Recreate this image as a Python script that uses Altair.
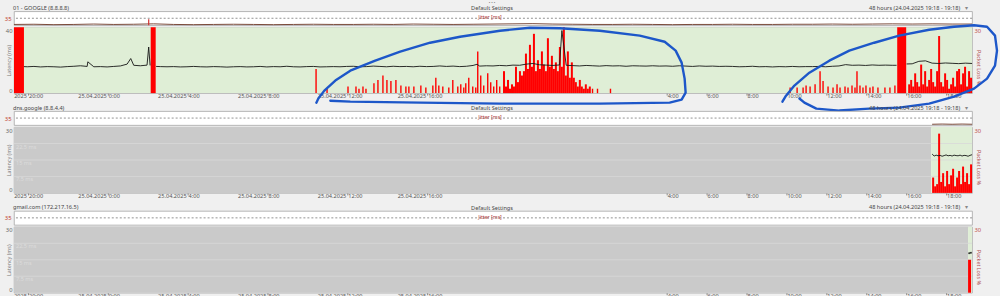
import altair as alt
import pandas as pd
import numpy as np

FONT = "Noto Sans"
W, HJ, HM = 960, 14, 66
GREEN, GRAY, RED = "#dfeed6", "#cacaca", "#ff0000"

START = pd.Timestamp("2025-04-24 19:18")

# ---------------- x-axis tick labels ----------------
tick_times = ["2025-04-24 20:00", "2025-04-25 00:00", "2025-04-25 04:00", "2025-04-25 08:00",
              "2025-04-25 12:00", "2025-04-25 16:00", "2025-04-26 04:00", "2025-04-26 06:00",
              "2025-04-26 08:00", "2025-04-26 10:00", "2025-04-26 12:00", "2025-04-26 14:00",
              "2025-04-26 16:00", "2025-04-26 18:00"]
tick_dates = ["2025", "25.04.2025", "25.04.2025", "25.04.2025", "25.04.2025", "25.04.2025",
              "", "", "", "", "", "", "", ""]
tick_clock = ["20:00", "0:00", "4:00", "8:00", "12:00", "16:00", "4:00", "6:00", "8:00",
              "10:00", "12:00", "14:00", "16:00", "18:00"]
tick_hours = list(((pd.to_datetime(tick_times) - START).total_seconds() / 3600).round(3))

# ---------------- panel meta ----------------
panel_names = ["01 - GOOGLE (8.8.8.8)", "dns.google (8.8.4.4)", "gmail.com (172.217.16.5)"]
lat_max = [40, 30, 30]
seg_start = [[0.0], [0.0, 45.95], [0.0, 47.8]]
seg_end = [[48.0], [45.95, 48.0], [47.8, 48.0]]
seg_state = [["ok"], ["none", "ok"], ["none", "ok"]]

grid_vals = [7.5, 15, 22.5]
grid_labels = ["7,5 ms", "15 ms", "22,5 ms"]

# ---------------- panel 1 latency (ms), every 20 min ----------------
lat1_values = [
    None, None, 16.0, 16.2, 15.9, 16.1, 16.0, 15.8, 16.1, 16.3, 16.6, 16.2,
    16.0, 16.1, 15.9, 16.2, 16.5, 17.6, 16.9, 16.6, 17.0, None, 16.1, 16.0,
    16.1, 15.9, 16.0, 16.2, 16.0, 15.9, 16.1, 16.0, 15.8, 16.0, 16.1, 15.9,
    16.0, 16.2, 15.9, 16.1, 16.0, 16.3, 16.0, 15.9, 16.1, 16.2, 15.9, 16.0,
    16.1, 16.0, 16.2, 16.3, 16.0, 16.1, 16.4, 16.2, 16.0, 16.3, 16.1, 16.2,
    16.0, 16.3, 16.1, 16.2, 16.5, 16.2, 16.4, 16.1, 16.3, 16.8, 16.4, 16.6,
    16.5, 16.8, 16.6, 17.0, 16.9, 17.6, 18.0, 17.2, 17.0, 16.8, 17.1, 16.9,
    16.7, 16.5, 16.8, 16.6, 16.4, 16.7, 16.5, 16.6, 16.3, 16.6, 16.5, 16.4,
    16.6, 16.4, 16.5, 16.3, 16.6, 16.4, 16.2, 16.5, 16.3, 16.4, 16.2, 16.3,
    16.2, 16.0, 16.1, 16.3, 16.0, 16.1, 15.9, 16.1, 16.0, 16.2, 16.0, 16.1,
    16.1, 16.2, 16.0, 16.3, 16.5, 17.3, 16.9, 17.0, 16.8, 17.1, 16.9, 17.0,
    16.9, None, None, 17.8, 19.3, 19.6, 18.2, 18.0, 18.3, 18.1, 17.9, 18.2,
]
lat1_hours = list(np.arange(len(lat1_values)) / 3)
lat1_extra_hours = [0.5, 3.7, 5.85, 6.75, 6.82, 7.12, 23.2, 27.45, 44.22, 44.72, 48.0]
lat1_extra_values = [16.1, 19.0, 21.0, 28.0, 16.8, 16.2, 17.5, 38.0, 16.9, 17.7, 18.0]

lat2_hours = [46.0, 46.1, 46.2, 46.3, 46.4, 46.5, 46.6, 46.7, 46.8, 46.9, 47.0, 47.1, 47.2,
              47.3, 47.4, 47.5, 47.6, 47.7, 47.8, 47.9, 48.0]
lat2_values = [17.7, 16.8, 17.2, 16.9, 17.1, 16.7, 17.0, 17.3, 16.9, 17.1, 16.8, 17.2, 17.0,
               16.9, 17.2, 16.8, 17.1, 17.0, 16.7, 17.1, 17.4]
lat3_hours = [47.85, 47.95]
lat3_values = [18.0, 18.2]

# ---------------- packet loss (%) ----------------
loss1_thin_h = [15.1, 15.65, 16.7, 17.1, 17.25, 17.45, 17.6, 18.0, 18.2, 18.45, 18.65, 18.85,
                19.1, 19.35, 19.6, 19.75, 20.0, 20.35, 20.6, 20.95, 21.1, 21.25, 21.45, 21.75,
                21.95, 22.2, 22.35, 22.5, 22.6, 22.75, 22.95, 23.1, 23.2, 23.35, 23.5, 23.7,
                23.85, 24.0, 24.15, 24.3, 28.95, 29.2, 29.85,
                38.85, 39.2, 39.5, 39.65, 39.85, 40.1, 40.35, 40.5, 40.75, 41.0, 41.2, 41.35,
                41.6, 41.75, 41.95, 42.1, 42.2, 42.35, 42.5, 42.65, 42.85, 43.0, 43.25, 43.6,
                43.85, 44.1]
loss1_thin_v = [11, 2, 3, 3, 2, 3, 2, 4.5, 6, 8, 6, 5.5,
                6, 3.5, 3, 3, 3, 3.5, 2.5, 3.5, 7, 3.5, 3, 2.5,
                6, 3, 4, 2.5, 4.5, 7, 3, 2.5, 19, 8, 3.5, 9,
                5, 3, 6, 3, 2, 2, 2,
                2.5, 2.5, 2.5, 3.5, 3, 4, 10, 5.5, 3, 2.5, 4, 2.5,
                3, 2.5, 3.5, 2.5, 10, 3.5, 2.5, 3.5, 2.5, 3, 2.5, 2.5,
                2.5, 3.5]
loss1_dense_h = [24.5, 24.6, 24.7, 24.8, 24.9, 25.0, 25.1, 25.2, 25.3, 25.4, 25.5, 25.6, 25.7,
                 25.8, 25.9, 26.0, 26.1, 26.2, 26.3, 26.4, 26.5, 26.6, 26.7, 26.8, 26.9, 27.0,
                 27.1, 27.2, 27.3, 27.4, 27.5, 27.6, 27.7, 27.8, 27.9, 28.0, 28.1, 28.2, 28.3,
                 28.4, 28.5, 28.6, 28.7, 28.8,
                 44.8, 44.9, 45.0, 45.1, 45.2, 45.3, 45.4, 45.5, 45.6, 45.7, 45.8, 45.9, 46.0,
                 46.1, 46.2, 46.3, 46.4, 46.5, 46.6, 46.7, 46.8, 46.9, 47.0, 47.1, 47.2, 47.3,
                 47.4, 47.5, 47.6, 47.7, 47.8, 47.9]
loss1_dense_v = [10, 3, 6, 2, 4, 3, 12, 5, 10, 8, 10, 18, 11,
                 22, 12, 27, 10, 15, 11, 19, 13, 10, 25, 12, 17, 11,
                 14, 10, 21, 12, 30, 8, 19, 7, 14, 7, 5, 3, 6,
                 3, 2, 4, 2, 3,
                 4, 6, 3, 9, 5, 3, 13, 4, 10, 3, 6, 11, 5,
                 3, 10, 26, 5, 3, 9, 6, 2, 4, 7, 3, 10, 11,
                 4, 9, 12, 3, 10, 7]
loss1_block_start = [0.0, 6.85, 44.25]
loss1_block_end = [0.5, 7.1, 44.7]
loss1_block_v = [100, 100, 100]

loss2_dense_h = [46.0, 46.1, 46.2, 46.3, 46.4, 46.5, 46.6, 46.7, 46.8, 46.9, 47.0, 47.1, 47.2,
                 47.3, 47.4, 47.5, 47.6, 47.7, 47.8, 47.9]
loss2_dense_v = [7, 3, 4, 27, 5, 9, 3, 10, 4, 8, 11, 3, 7, 10, 4, 12, 5, 9, 4, 13]
loss3_block_start = [47.8]
loss3_block_end = [47.95]
loss3_block_v = [15]

# ---------------- jitter (ms) ----------------
jit1_values = [4, 5, 3, 4, 6, 4, 5, 7, 4, 3, 4, 5, 4, 3, 4, 5, 4, 4, 5, 4, 6, 5, 4, 5, 6,
               7, 8, 6, 5, 4, 4, 5, 4, 3, 4, 4, 5, 4, 4, 5, 5, 6, 5, 6, 7, 6, 7, 6, 6]
jit1_hours = list(range(len(jit1_values)))
jit1_spike_h = [6.75]
jit1_spike_v = [30]
jit2_hours = [46.0, 46.5, 47.0, 47.5, 48.0]
jit2_values = [4, 5, 4, 5, 4]
jitter_limit = [35]

# ---------------- hand-drawn annotation loops (hour, ms on panel-1 scale) ----------------
loop1_h = [15.15, 15.25, 15.55, 16.1, 16.85, 18.1, 19.35, 20.85, 22.35, 24.35, 25.85, 27.35,
           29.35, 31.35, 32.6, 33.15, 33.45, 33.6, 33.65, 33.45, 32.85, 29.35, 24.35, 20.35,
           16.85, 15.85]
loop1_v = [-5.8, -3.3, 1.5, 7.6, 13.6, 19.7, 25.2, 30.6, 34.2, 37.9, 39.7, 39.4,
           37.9, 34.9, 31.2, 25.8, 18.5, 8.8, 0.3, -3.9, -5.8, -6.4, -6.4, -5.8,
           -5.2, -4.6]
loop2_h = [38.5, 38.65, 39.1, 39.85, 40.85, 41.85, 43.1, 44.35, 45.85, 47.1, 48.1, 48.75,
           49.15, 49.25, 49.15, 48.75, 48.1, 47.1, 45.85, 44.35, 42.85, 41.35, 40.2, 39.6,
           39.35]
loop2_v = [-5.2, -2.1, 4.6, 12.4, 19.7, 25.8, 30.6, 34.9, 38.5, 40.3, 41.2, 40.3,
           34.9, 25.8, 16.7, 8.8, 2.7, -2.1, -6.4, -8.8, -9.4, -10.6, -9.4, -5.8,
           -3.3]

# ================= build tables =================
ticks_df = pd.DataFrame({"h": tick_hours, "date": tick_dates, "clock": tick_clock})


def lat_table(hours, values):
    df = pd.DataFrame({"h": hours, "v": values}).sort_values("h").reset_index(drop=True)
    df["seg"] = df["v"].isna().cumsum()
    return df.dropna()


lat_dfs = [
    lat_table(lat1_hours + lat1_extra_hours, lat1_values + lat1_extra_values),
    lat_table(lat2_hours, lat2_values),
    lat_table(lat3_hours, lat3_values),
]


def loss_table(thin=([], []), dense=([], []), blocks=([], [], [])):
    parts = []
    if thin[0]:
        parts.append(pd.DataFrame({"s": thin[0], "e": [h + 0.07 for h in thin[0]], "v": thin[1]}))
    if dense[0]:
        parts.append(pd.DataFrame({"s": dense[0], "e": [h + 0.1 for h in dense[0]], "v": dense[1]}))
    if blocks[0]:
        parts.append(pd.DataFrame({"s": blocks[0], "e": blocks[1], "v": blocks[2]}))
    return pd.concat(parts, ignore_index=True)


loss_dfs = [
    loss_table((loss1_thin_h, loss1_thin_v), (loss1_dense_h, loss1_dense_v),
               (loss1_block_start, loss1_block_end, loss1_block_v)),
    loss_table(dense=(loss2_dense_h, loss2_dense_v)),
    loss_table(blocks=(loss3_block_start, loss3_block_end, loss3_block_v)),
]

jit_dfs = [
    pd.DataFrame({"h": jit1_hours, "v": jit1_values}),
    pd.DataFrame({"h": jit2_hours, "v": jit2_values}),
    None,
]

loops_df = pd.concat([
    pd.DataFrame({"h": loop1_h, "v": loop1_v, "loop": "a", "i": range(len(loop1_h))}),
    pd.DataFrame({"h": loop2_h, "v": loop2_v, "loop": "b", "i": range(len(loop2_h))}),
], ignore_index=True)

# ================= chart pieces =================
xs = alt.Scale(domain=[0, 48], nice=False, zero=False)
xaxis = alt.Axis(values=tick_hours, labels=False, ticks=True, tickSize=2, tickColor="#8a8a8a",
                 domain=False, grid=False, title=None)


def X(field):
    return alt.X(field, type="quantitative", scale=xs, axis=xaxis)


def text_layer(txt, x, y, align="left", size=5.6, color="#454545", baseline="middle"):
    return alt.Chart(pd.DataFrame({"t": [txt]})).mark_text(
        align=align, baseline=baseline, fontSize=size, font=FONT, color=color
    ).encode(text="t:N", x=alt.value(x), y=alt.value(y))


def jitter_chart(i):
    ys = alt.Scale(domain=[0, 70], nice=False)
    jaxis = alt.Axis(values=[35], ticks=False, domain=False, grid=False, labelPadding=3,
                     labelFontSize=5.8, labelFont=FONT, labelColor="#c0392b", title=None)
    layers = []
    if i == 0:
        layers.append(alt.Chart(pd.DataFrame({"a": [0]})).mark_rect(fillOpacity=0, strokeOpacity=0).encode(
            x=alt.value(-13), x2=alt.value(987), y=alt.value(-10), y2=alt.value(286)))
    layers.append(alt.Chart(pd.DataFrame({"v": jitter_limit})).mark_rule(
        strokeDash=[2, 2], color="#777", strokeWidth=0.8).encode(y=alt.Y("v:Q", scale=ys, axis=jaxis)))
    if jit_dfs[i] is not None:
        layers.append(alt.Chart(jit_dfs[i]).mark_line(color="#7a4a3a", strokeWidth=1).encode(
            x=alt.X("h:Q", scale=xs, axis=None), y=alt.Y("v:Q", scale=ys, axis=jaxis)))
    if i == 0:
        layers.append(alt.Chart(pd.DataFrame({"h": jit1_spike_h, "v": jit1_spike_v})).mark_rule(
            color="#d03030", strokeWidth=1.2).encode(
            x=alt.X("h:Q", scale=xs, axis=None), y=alt.Y("v:Q", scale=ys, axis=jaxis),
            y2=alt.datum(0)))
        layers.append(text_layer("• • •", 479, -8, align="center", size=4, color="#777"))
    layers.append(text_layer(panel_names[i], -1, -3.5))
    layers.append(text_layer("Default Settings", 479, -3, align="center"))
    layers.append(text_layer("Jitter [ms]", 477, 6, align="center", size=5.2, color="#b03a3a"))
    layers.append(text_layer("48 hours (24.04.2025 19:18 - 19:18)", 948, -3.5, align="right"))
    layers.append(text_layer("▾", 954, -3.5, align="center", size=6, color="#888"))
    return alt.layer(*layers).properties(width=W, height=HJ)


def main_chart(i):
    ymax = lat_max[i]
    ylat = alt.Scale(domain=[0, ymax], nice=False, zero=True)
    yaxis = alt.Axis(values=[0, ymax], labelFlush=True, ticks=False, domain=False, grid=False,
                     labelPadding=2, labelFontSize=5.8, labelFont=FONT, labelColor="#666",
                     title="Latency (ms)", titleFontSize=5.4, titleFont=FONT, titleColor="#7a7a7a",
                     titleFontWeight="normal", titleAngle=270, titleX=-5, titleY=HM / 2,
                     titleAlign="center", titleBaseline="middle")
    raxis = alt.Axis(orient="right", values=[30], labelFlush=True, ticks=False, domain=False,
                     grid=False, labelPadding=2, labelFontSize=5.8, labelFont=FONT,
                     labelColor="#c0504d", title="Packet Loss %", titleFontSize=5.4, titleFont=FONT,
                     titleColor="#b05050", titleFontWeight="normal", titleAngle=90, titleX=6,
                     titleY=40, titleAlign="center", titleBaseline="middle")
    state_df = pd.DataFrame({"s": seg_start[i], "e": seg_end[i], "state": seg_state[i]})
    bg = alt.Chart(state_df).mark_rect().encode(
        x=X("s"), x2="e", y=alt.value(0), y2=alt.value(HM),
        color=alt.Color("state:N", scale=alt.Scale(domain=["ok", "none"], range=[GREEN, GRAY]),
                        legend=None))
    layers = [bg]
    if i > 0:
        gdf = pd.DataFrame({"v": grid_vals, "lab": grid_labels})
        grid = alt.layer(
            alt.Chart(gdf).mark_rule(color="#d8d8d8", strokeWidth=0.8).encode(
                y=alt.Y("v:Q", scale=ylat, axis=None)),
            alt.Chart(gdf).mark_text(align="left", baseline="top", dx=2, dy=1, fontSize=5.6,
                                     font=FONT, color="#dcdcdc").encode(
                x=alt.value(0), y=alt.Y("v:Q", scale=ylat, axis=None), text="lab:N"),
        )
        layers.append(grid)
    bars = alt.Chart(loss_dfs[i]).mark_rect(color=RED).encode(
        x=X("s"), x2="e",
        y=alt.Y("v:Q", scale=alt.Scale(domain=[0, 30], clamp=True, nice=False), axis=raxis),
        y2=alt.datum(0))
    layers.append(bars)
    lat_layers = [alt.Chart(lat_dfs[i]).mark_line(color="#151515", strokeWidth=0.9).encode(
        x=X("h"), y=alt.Y("v:Q", scale=ylat, axis=yaxis), detail="seg:N")]
    if i == 2:
        lat_layers.append(alt.Chart(lat_dfs[i]).mark_point(color="#151515", size=4, filled=True).encode(
            x=X("h"), y=alt.Y("v:Q", scale=ylat, axis=yaxis)))
    lat_layers.append(alt.Chart(ticks_df).mark_text(align="left", baseline="top", dx=1, dy=1,
                                                    fontSize=5.6, font=FONT, color="#555").encode(
        x=X("h"), y=alt.value(HM), text="clock:N"))
    lat_layers.append(alt.Chart(ticks_df).mark_text(align="right", baseline="top", dx=-1, dy=1,
                                                    fontSize=5.6, font=FONT, color="#555").encode(
        x=X("h"), y=alt.value(HM), text="date:N"))
    if i == 0:
        lat_layers.append(alt.Chart(loops_df).mark_line(color="#1d57c9", strokeWidth=2.4,
                                                        strokeCap="round", strokeJoin="round").encode(
            x=X("h"), y=alt.Y("v:Q", scale=ylat, axis=yaxis), detail="loop:N", order="i:Q"))
    layers.append(alt.layer(*lat_layers))
    return alt.layer(*layers).resolve_scale(y="independent").properties(width=W, height=HM)


def spacer():
    return alt.Chart(pd.DataFrame({"a": [0]})).mark_point(opacity=0).encode(
        x=alt.value(0), y=alt.value(0)
    ).properties(width=W, height=14, view=alt.ViewConfig(stroke="transparent", fill="transparent"))


rows = []
for i in range(3):
    if i > 0:
        rows.append(spacer())
    rows.append(jitter_chart(i))
    rows.append(main_chart(i))

chart = alt.vconcat(*rows, spacing=2, bounds="flush").properties(padding=0).configure(
    background="#f0f0f0"
).configure_view(stroke="#a6a6a6", strokeWidth=0.8, fill="#ffffff")

chart.save("out.html", embed_options={"renderer": "svg", "actions": False})
